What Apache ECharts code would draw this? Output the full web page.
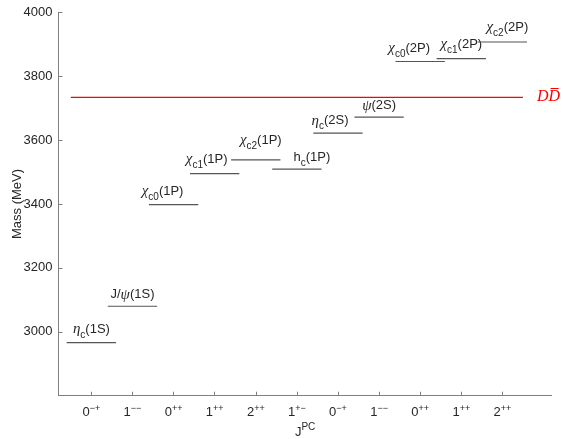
<!DOCTYPE html>
<html>
<head>
<meta charset="utf-8">
<script src="https://cdn.jsdelivr.net/npm/echarts@6/dist/echarts.min.js"></script>
<style>
  html, body { margin: 0; padding: 0; background: #fff; }
  #chart { width: 563px; height: 439px; }
</style>
</head>
<body>
<div id="chart"></div>
<script>
// Charmonium spectrum: one level per J^PC slot
const jpcLabels = ['0-+', '1--', '0++', '1++', '2++', '1+-', '0-+', '1--', '0++', '1++', '2++'];
const stateNames = ['η_{c}(1S)', 'J/ψ(1S)', 'χ_{c0}(1P)', 'χ_{c1}(1P)', 'χ_{c2}(1P)', 'h_{c}(1P)',
                    'η_{c}(2S)', 'ψ(2S)', 'χ_{c0}(2P)', 'χ_{c1}(2P)', 'χ_{c2}(2P)'];
const massMeV = [2966, 3080, 3398, 3495, 3538, 3509, 3622, 3672, 3846, 3855, 3907];
const ddThreshold = 3734;
const ddSpan = [0.5, 11.5];
const yTicks = [2800, 3000, 3200, 3400, 3600, 3800, 4000];
const xRange = [0.2, 12.2];

// label placement tweaks (pixels: dx, gap above the level line)
const labelNudge = [[0, 6], [0, 4], [-11, 6], [-8, 7], [5, 12], [15, 4],
                    [-8, 5], [0, 4], [-11, 6], [0, 7], [5, 7]];
const halfWidth = 0.6;

const SANS = 'Liberation Sans, Arial, sans-serif';
const SERIF = 'Liberation Serif, Times New Roman, serif';
const TXT = '#262626';

// turn "χ_{c0}(1P)" into ECharts rich text
function toRich(name) {
  let out = '';
  let i = 0;
  let buf = '';
  const flush = () => { if (buf) { out += '{n|' + buf + '}'; buf = ''; } };
  while (i < name.length) {
    const ch = name[i];
    if (ch === '_' && name[i + 1] === '{') {
      flush();
      const end = name.indexOf('}', i);
      out += '{s|' + name.slice(i + 2, end) + '}';
      i = end + 1;
      continue;
    }
    if (/[α-ωΑ-Ω]/.test(ch)) {
      flush();
      out += '{g|' + ch + '}';
      i++;
      continue;
    }
    buf += ch;
    i++;
  }
  flush();
  return out;
}

const labelRich = {
  n: { fontFamily: SANS, fontSize: 13, fill: TXT, color: TXT, lineHeight: 15 },
  g: { fontFamily: SERIF, fontStyle: 'italic', fontSize: 15, fill: TXT, color: TXT, lineHeight: 15 },
  s: { fontFamily: SANS, fontSize: 10, fill: TXT, color: TXT, padding: [12, 0, 0, 0], lineHeight: 12 }
};

function jpcRich(s) {
  return '{b|' + s[0] + '}{p|' + s.slice(1).replace(/-/g, '\u2212') + '}';
}

const slots = jpcLabels.map((_, i) => i + 1);
const levelData = massMeV.map((m, i) => [slots[i], m]);

const chart = echarts.init(document.getElementById('chart'), null, { renderer: 'canvas' });
chart.setOption({
  animation: false,
  backgroundColor: '#ffffff',
  grid: { left: 58.5, right: 11.3, top: 12.3, bottom: 43.3, containLabel: false, outerBoundsMode: 'none' },
  xAxis: {
    type: 'value', min: xRange[0], max: xRange[1],
    name: '{j|J}{p|PC}', nameLocation: 'middle', nameGap: 27, nameMoveOverlap: false,
    nameTextStyle: {
      rich: {
        j: { fontFamily: SANS, fontSize: 13, color: TXT },
        p: { fontFamily: SANS, fontSize: 10, color: TXT, padding: [0, 0, 10, 0] }
      }
    },
    axisLine: { lineStyle: { color: '#808080', width: 1 } },
    axisTick: { inside: true, length: 4, lineStyle: { color: '#808080' }, customValues: slots },
    axisLabel: {
      customValues: slots,
      margin: 8,
      formatter: v => jpcRich(jpcLabels[Math.round(v) - 1]),
      rich: {
        b: { fontFamily: SANS, fontSize: 13, color: TXT },
        p: { fontFamily: SANS, fontSize: 9, color: TXT, padding: [0, 0, 9, 0] }
      }
    },
    splitLine: { show: false }
  },
  yAxis: {
    type: 'value', min: yTicks[0], max: yTicks[yTicks.length - 1], interval: 200,
    name: 'Mass (MeV)', nameLocation: 'middle', nameGap: 35, nameMoveOverlap: false,
    nameTextStyle: { fontFamily: SANS, fontSize: 13, color: TXT },
    axisLine: { show: true, lineStyle: { color: '#808080', width: 1 } },
    axisTick: { show: true, inside: true, length: 4, lineStyle: { color: '#808080' } },
    axisLabel: {
      showMinLabel: false, margin: 6,
      formatter: v => String(v),
      fontFamily: SANS, fontSize: 13, color: TXT
    },
    splitLine: { show: false }
  },
  series: [
    {
      type: 'custom',
      data: levelData,
      clip: false,
      renderItem: (params, api) => {
        const i = params.dataIndex;
        const x = api.value(0), m = api.value(1);
        const p0 = api.coord([x - halfWidth, m]);
        const p1 = api.coord([x + halfWidth, m]);
        const nd = labelNudge[i];
        return {
          type: 'group',
          children: [
            {
              type: 'line',
              shape: { x1: p0[0], y1: p0[1], x2: p1[0], y2: p1[1] },
              style: { stroke: '#555555', lineWidth: 1.2 }
            },
            {
              type: 'text',
              x: (p0[0] + p1[0]) / 2 + nd[0],
              y: p0[1] - nd[1],
              style: {
                text: toRich(stateNames[i]),
                rich: labelRich,
                align: 'center',
                verticalAlign: 'bottom',
                fill: TXT,
                font: '13px ' + SANS
              }
            }
          ]
        };
      }
    },
    {
      type: 'line',
      data: [[ddSpan[0], ddThreshold], [ddSpan[1], ddThreshold]],
      symbol: 'none',
      lineStyle: { color: '#ff0000', width: 1.3 },
      endLabel: {
        show: true,
        distance: 14,
        formatter: () => '{d|D}{d|D\u0305}',
        rich: {
          d: { fontFamily: SERIF, fontStyle: 'italic', fontSize: 16, color: '#ff0000' }
        }
      }
    }
  ]
});
</script>
</body>
</html>
